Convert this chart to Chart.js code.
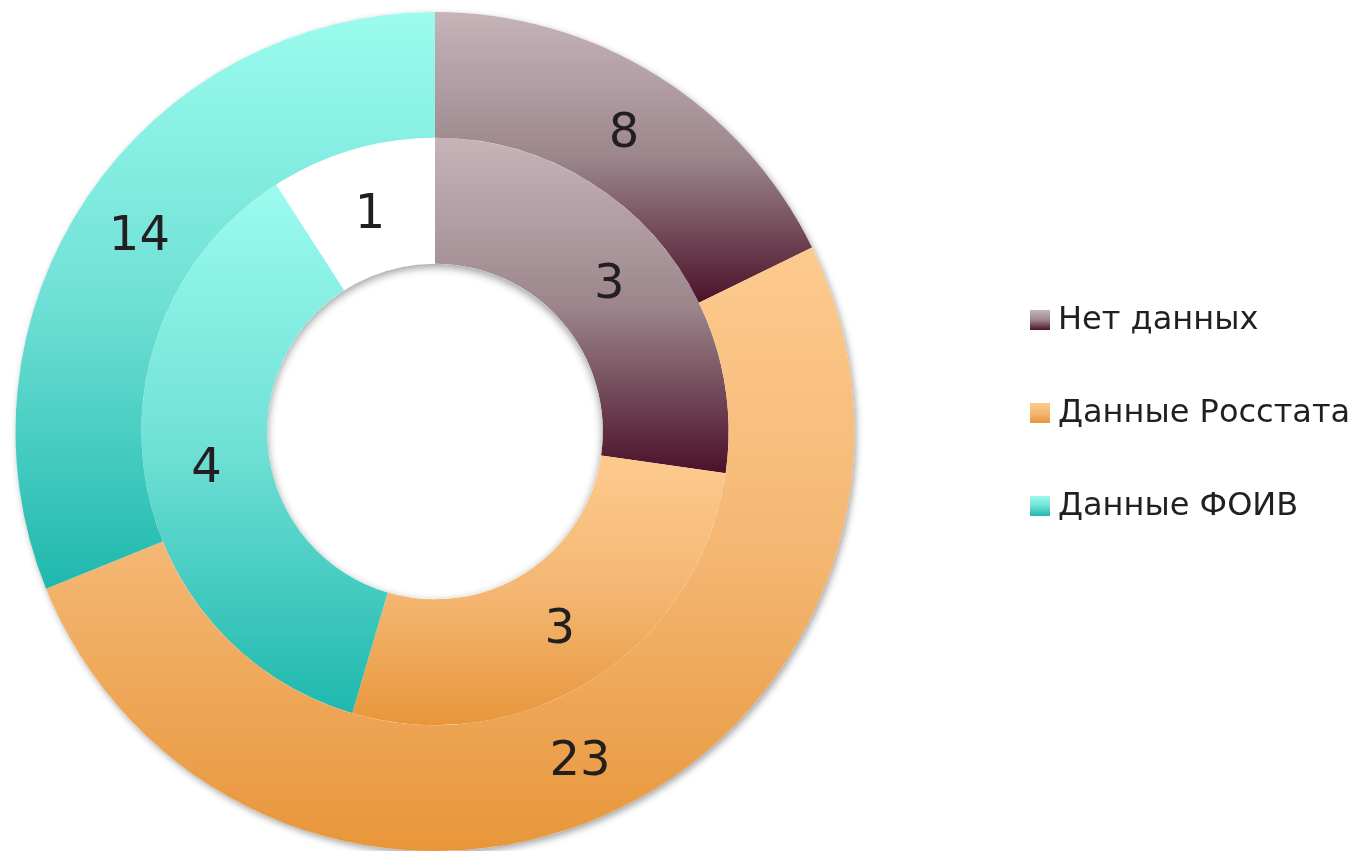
<!DOCTYPE html>
<html lang="ru">
<head>
<meta charset="UTF-8">
<title>Источники данных</title>
<script src="https://cdn.jsdelivr.net/npm/chart.js@4"></script>
<style>
  body { margin: 0; background: #fff; }
</style>
</head>
<body>
<canvas id="krug" width="1359" height="851"></canvas>
<script>
// данные
const categories = ['Нет данных', 'Данные Росстата', 'Данные ФОИВ'];
const outerValues = [8, 23, 14];
const innerValues = [3, 3, 4, 1]; // последний сегмент белый, без подписи

// цвета градиентов (верх -> середина -> низ)
const topColors = ['#c6b4b9', '#fdca8e', '#9cfbef', '#ffffff'];
const midColors = ['#9c868c', '#f4b773', '#6fe0d5', '#ffffff'];
const bottomColors = ['#4c1129', '#e8963a', '#1fb8ad', '#ffffff'];

const textColor = '#231f20';
const fontName = '"DejaVu Sans", Verdana, sans-serif';

function vGrad(ctx, y0, y1, i) {
  const g = ctx.createLinearGradient(0, y0, 0, y1);
  g.addColorStop(0, topColors[i]);
  g.addColorStop(0.5, midColors[i]);
  g.addColorStop(1, bottomColors[i]);
  return g;
}

// вертикальный градиент по габаритам каждого сектора
const gradientPlugin = {
  id: 'gradients',
  beforeDatasetsDraw(chart) {
    const ctx = chart.ctx;
    // тень вокруг внешнего кольца
    const m0 = chart.getDatasetMeta(0).data[0];
    if (m0) {
      ctx.save();
      ctx.beginPath();
      ctx.arc(m0.x, m0.y, m0.outerRadius, 0, Math.PI * 2);
      ctx.fillStyle = '#fff';
      ctx.shadowColor = 'rgba(0,0,0,0.35)';
      ctx.shadowBlur = 7;
      ctx.shadowOffsetX = 2;
      ctx.shadowOffsetY = 3;
      ctx.fill();
      ctx.restore();
    }
    chart.data.datasets.forEach((ds, di) => {
      chart.getDatasetMeta(di).data.forEach((arc, i) => {
        const p = arc.getProps(['x', 'y', 'startAngle', 'endAngle', 'innerRadius', 'outerRadius']);
        let yMin = Infinity, yMax = -Infinity;
        for (let k = 0; k <= 60; k++) {
          const a = p.startAngle + (p.endAngle - p.startAngle) * k / 60;
          [p.innerRadius, p.outerRadius].forEach(r => {
            const y = p.y + r * Math.sin(a);
            yMin = Math.min(yMin, y);
            yMax = Math.max(yMax, y);
          });
        }
        arc.options.backgroundColor = vGrad(ctx, yMin, yMax, i);
      });
    });
  },
  afterDatasetsDraw(chart) {
    const ctx = chart.ctx;
    // тень внутри отверстия
    const inner = chart.getDatasetMeta(1).data[0];
    if (inner) {
      ctx.save();
      ctx.beginPath();
      ctx.arc(inner.x, inner.y, inner.innerRadius, 0, Math.PI * 2);
      ctx.clip();
      ctx.beginPath();
      ctx.arc(inner.x, inner.y, inner.innerRadius + 300, 0, Math.PI * 2);
      ctx.arc(inner.x, inner.y, inner.innerRadius, 0, Math.PI * 2, true);
      ctx.fillStyle = '#fff';
      ctx.shadowColor = 'rgba(0,0,0,0.4)';
      ctx.shadowBlur = 8;
      ctx.shadowOffsetY = 3;
      ctx.fill();
      ctx.restore();
    }
    // подписи значений
    ctx.save();
    ctx.fillStyle = textColor;
    ctx.font = '48px ' + fontName;
    ctx.textAlign = 'center';
    ctx.textBaseline = 'middle';
    chart.data.datasets.forEach((ds, di) => {
      chart.getDatasetMeta(di).data.forEach((arc, i) => {
        const pos = arc.tooltipPosition();
        ctx.fillText(String(ds.data[i]), pos.x, pos.y + 5);
      });
    });
    ctx.restore();
  },
  afterDraw(chart) {
    // легенда справа
    const ctx = chart.ctx;
    ctx.save();
    ctx.font = '32px ' + fontName;
    ctx.textBaseline = 'middle';
    ctx.textAlign = 'left';
    categories.forEach((name, i) => {
      const y = 320 + i * 93;
      ctx.fillStyle = vGrad(ctx, y - 10, y + 10, i);
      ctx.fillRect(1030, y - 10, 20, 20);
      ctx.fillStyle = textColor;
      ctx.fillText(name, 1058, y + 1);
    });
    ctx.restore();
  }
};

new Chart(document.getElementById('krug'), {
  type: 'doughnut',
  data: {
    labels: categories,
    datasets: [
      {
        data: outerValues,
        backgroundColor: (c) => topColors[c.dataIndex],
        borderWidth: 0
      },
      {
        data: innerValues,
        backgroundColor: (c) => topColors[c.dataIndex],
        borderWidth: 0
      }
    ]
  },
  options: {
    responsive: false,
    animation: false,
    events: [],
    cutout: '40%',
    layout: { padding: { left: 15, right: 504, top: 12, bottom: 0 } },
    plugins: {
      legend: { display: false },
      tooltip: { enabled: false }
    }
  },
  plugins: [gradientPlugin]
});
</script>
</body>
</html>
